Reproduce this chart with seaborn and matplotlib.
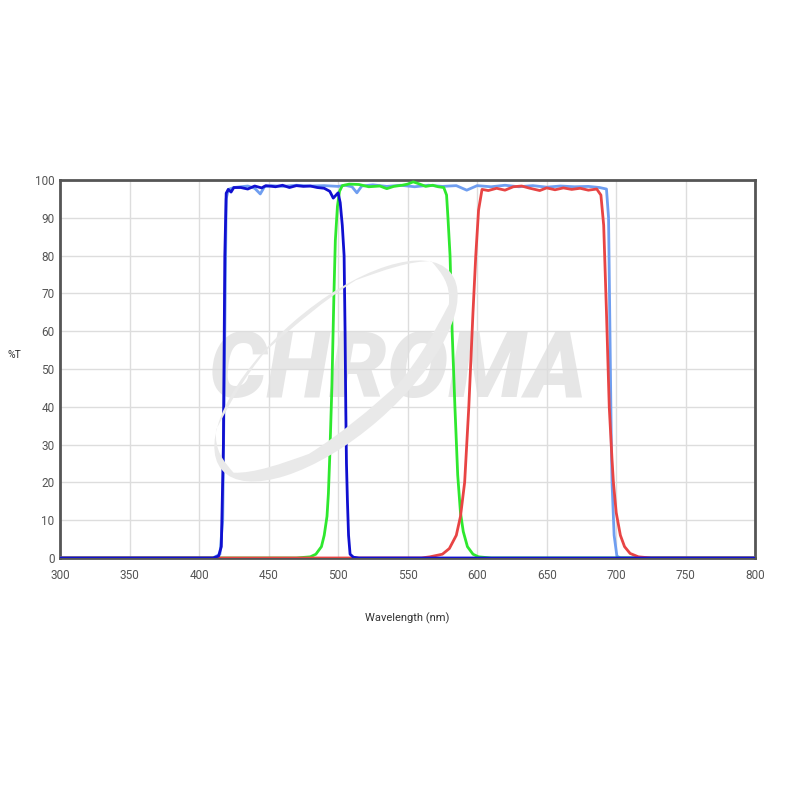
import matplotlib
matplotlib.use("Agg")
import matplotlib.pyplot as plt
from matplotlib.patches import Ellipse, PathPatch
from matplotlib.path import Path
import seaborn as sns
import pandas as pd

# Curvas de transmissao (nm, %T)
azul_claro_nm = [300, 410, 415, 417, 418.5, 419.5, 421, 425, 430, 435, 440, 444, 447, 452, 460, 470, 480,
                 490, 500, 505, 510, 513.5, 517, 525, 535, 545, 555, 565, 575, 585, 592.5, 600, 610, 620,
                 630, 640, 650, 660, 670, 680, 688, 693, 694.5, 695.5, 696.5, 697, 698.5, 700.5, 703, 800]
azul_claro_t = [0, 0, 1, 10, 60, 95, 97.5, 98, 98.2, 98.4, 97.8, 96.3, 98.2, 98.5, 98.3, 98.6, 98.4,
                98.5, 98.3, 98.6, 98.2, 96.6, 98.4, 98.7, 98.3, 98.6, 98.2, 98.6, 98.3, 98.5, 97.3, 98.5, 98.2, 98.6,
                98.2, 98.5, 98.1, 98.4, 98.2, 98.3, 98.0, 97.6, 90, 60, 30, 20, 6, 0.5, 0, 0]

azul_nm = [300, 410, 414, 416, 417.5, 418.5, 419.5, 421, 423, 425, 430, 435, 440, 445, 448, 455, 460,
           465, 470, 475, 480, 485, 490, 494, 496.5, 498, 500, 501.5, 503, 504.3, 505, 505.5, 506,
           506.7, 507.5, 508.6, 511, 515, 800]
azul_t = [0, 0, 0.5, 3, 30, 80, 96.5, 97.5, 96.8, 98, 98, 97.6, 98.4, 97.9, 98.5, 98.2, 98.6,
          98.0, 98.5, 98.3, 98.4, 98.0, 97.8, 97.0, 95.2, 95.8, 96.6, 94, 88, 80, 60, 40, 25,
          15, 6, 1, 0.2, 0, 0]

verde_nm = [300, 470, 480, 484, 488, 490, 492, 493, 494, 495.5, 497, 498, 499.5, 501, 503, 508, 515,
            522, 530, 535, 540, 546, 550, 554, 558, 563, 568, 572, 576, 578, 579, 580.5, 582, 584,
            586, 588, 590, 593, 597, 601, 610, 800]
verde_t = [0, 0, 0.3, 1, 3, 6, 11, 17, 27, 45, 70, 84, 93, 97, 98.5, 98.9, 98.8,
           98.2, 98.4, 97.7, 98.3, 98.6, 98.9, 99.5, 99.0, 98.3, 98.6, 98.2, 98.0, 96, 90, 80, 60, 40,
           22, 12, 7, 3, 1, 0.3, 0, 0]

vermelho_nm = [300, 560, 566, 575, 580, 585, 588, 591, 594, 597, 599, 601, 603.5, 608, 614, 620, 626,
               632, 638, 645, 650, 656, 662, 668, 674, 680, 686, 689, 691, 693, 695, 697, 698, 700,
               703, 706, 710, 716, 725, 800]
vermelho_t = [0, 0, 0.3, 1, 2.5, 6, 11, 20, 40, 65, 80, 92, 97.5, 97.2, 97.8, 97.3, 98.2,
              98.4, 97.8, 97.2, 97.9, 97.4, 97.9, 97.5, 97.8, 97.3, 97.6, 96, 88, 65, 40, 26, 20, 12,
              6, 3, 1.2, 0.3, 0, 0]

curvas = [
    (azul_claro_nm, azul_claro_t, "#6f9ef0"),
    (verde_nm, verde_t, "#2ee82e"),
    (vermelho_nm, vermelho_t, "#e84444"),
    (azul_nm, azul_t, "#1010d0"),
]

sns.set_style("white")
plt.rcParams["font.family"] = ["Roboto", "DejaVu Sans"]

fig = plt.figure(figsize=(7.9, 7.9), dpi=100)
ax = fig.add_axes([0.076, 0.2937, 0.88, 0.4785])

# Marca d'agua CHROMA (elipse em crescente + texto)
def caminho_elipse(cx, cy, w, h, ang):
    e = Ellipse((cx, cy), w, h, angle=ang)
    return e.get_patch_transform().transform_path(e.get_path())

externa = caminho_elipse(3.36, 4.19, 3.02, 1.30, 41)
interna = caminho_elipse(3.325, 4.23, 2.88, 1.12, 41)
interna = Path(interna.vertices[::-1], interna.codes)
anel = Path.make_compound_path(externa, interna)
fig.add_artist(PathPatch(anel, transform=fig.dpi_scale_trans, facecolor="#e9e9e9",
                         edgecolor="none", zorder=0.5))
ax.patch.set_alpha(0)
ax.text(0.486, 0.492, "CHROMA", transform=ax.transAxes, ha="center", va="center",
        fontsize=66, fontweight="black", fontstyle="italic", color="#e6e6e6", zorder=0)

for nm, t, cor in curvas:
    df = pd.DataFrame({"nm": nm, "t": t})
    sns.lineplot(data=df, x="nm", y="t", color=cor, linewidth=2, ax=ax, zorder=3)

ax.set_xlim(300, 800)
ax.set_ylim(0, 100)
ax.set_xticks(range(300, 801, 50))
ax.set_yticks(range(0, 101, 10))
ax.grid(True, color="#dddddd", linewidth=1, zorder=1)
ax.set_axisbelow(True)
ax.tick_params(axis="y", length=0, labelsize=8.5, labelcolor="#555555", pad=4)
ax.tick_params(axis="x", length=0, labelsize=8.5, labelcolor="#555555", pad=8)
for s in ax.spines.values():
    s.set_color("#555555")
    s.set_linewidth(2)

ax.set_xlabel("Wavelength (nm)", fontsize=8, color="#333333", labelpad=22)
ax.set_ylabel("%T", fontsize=7.5, color="#333333", rotation=0, labelpad=14)
ax.yaxis.set_label_coords(-0.065, 0.525)

fig.savefig("out.png", dpi=100, facecolor="white")
